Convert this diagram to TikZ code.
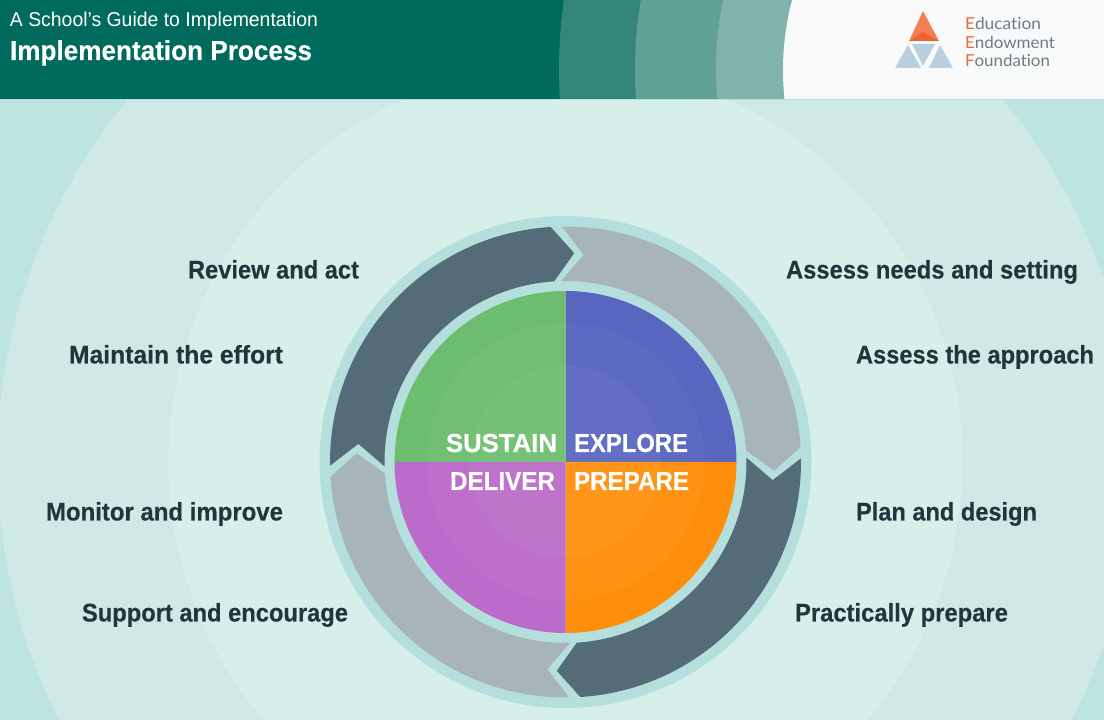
\documentclass[tikz,border=0pt]{standalone}
\usepackage{fontspec}
\usepackage{graphicx}
\setmainfont{Liberation Sans}[BoldFeatures={FakeBold=0.3}]
\newfontfamily\logofont[Ligatures=NoCommon]{Lato}
\definecolor{hdark}{HTML}{006B5C}
\definecolor{bandA}{HTML}{35857B}
\definecolor{bandB}{HTML}{5FA097}
\definecolor{bandC}{HTML}{80B3AA}
\definecolor{hwhite}{HTML}{F8FAFA}
\definecolor{bgA}{HTML}{BDE4E1}
\definecolor{bgB}{HTML}{CFEAE6}
\definecolor{bgC}{HTML}{D7EFEA}
\definecolor{ringc}{HTML}{B5DFDC}
\definecolor{arrowdark}{HTML}{546C77}
\definecolor{arrowgray}{HTML}{A7B4BA}
\definecolor{labelc}{HTML}{20363D}
\definecolor{blueq}{HTML}{5866C0}
\definecolor{greenq}{HTML}{6DBD70}
\definecolor{purpq}{HTML}{BB6BCA}
\definecolor{orangeq}{HTML}{FF8F0A}
\definecolor{eeforange}{HTML}{E9673F}
\definecolor{logoup}{HTML}{F47F55}
\definecolor{logolow}{HTML}{EE6330}
\definecolor{eefgray}{HTML}{707B85}
\definecolor{eefblue}{HTML}{B9CFDD}
\newcommand{\fitw}[2]{\resizebox{#1pt}{\height}{#2}}
\newcommand{\cyclearrow}[2]{%
  \begin{scope}[shift={(wc)},rotate=#1]
    \fill[#2] (0.8:235pt) -- (-5:208pt) -- (1.4:181pt)
      arc[start angle=1.4,end angle=-86.4,radius=181pt]
      -- (-92.4:209pt) -- (-86.4:235.5pt)
      arc[start angle=-86.4,end angle=0.8,radius=235.5pt] -- cycle;
  \end{scope}}
\tikzset{
  x=1pt,y=1pt,
  lab/.style={anchor=base west,inner sep=0pt,outer sep=0pt,text=labelc,font=\fontsize{25.5}{25.5}\selectfont\bfseries},
  phase/.style={anchor=base west,inner sep=0pt,outer sep=0pt,text=white,font=\fontsize{26}{26}\selectfont\bfseries},
  hd/.style={anchor=base west,inner sep=0pt,outer sep=0pt,text=white},
  eef/.style={anchor=base west,inner sep=0pt,outer sep=0pt,text=eefgray,font=\logofont\fontsize{16.5}{16.5}\selectfont}
}
\begin{document}
\begin{tikzpicture}
\useasboundingbox (0,0) rectangle (1104,720);
\coordinate (wc) at (565.5,258);
\begin{scope}
  \clip (0,0) rectangle (1104,720);
  \fill[bgA] (0,0) rectangle (1104,720);
  \fill[bgB] (wc) circle[radius=568pt];
  \fill[bgC] (wc) circle[radius=397pt];
  % header
  \fill[hdark] (0,621) rectangle (1104,720);
  \begin{scope}
    \clip (0,621) rectangle (1104,720);
    \fill[bandA] (1055,650) circle[radius=496pt];
    \fill[bandB] (1055,650) circle[radius=420pt];
    \fill[bandC] (1055,650) circle[radius=339pt];
    \fill[hwhite] (1055,650) circle[radius=272pt];
    \fill[hwhite] (1000,621) rectangle (1104,720);
  \end{scope}
  \fill[ringc] (0,619.5) rectangle (1104,621);
\end{scope}
% logo
\fill[logoup] (923,709) -- (939,679) -- (909,679) -- cycle;
\fill[logolow] (923,688) -- (939,679) -- (909,679) -- cycle;
\fill[eefblue] (895,652) -- (908,675) -- (921,652) -- cycle;
\fill[eefblue] (912,676) -- (935,676) -- (923,654) -- cycle;
\fill[eefblue] (929,652) -- (940,675) -- (953,652) -- cycle;
\node[eef] (eefa) at (965,690.5) {\fitw{76}{\textcolor{eeforange}{E}ducation}};
\node[eef] (eefb) at (965,671.5) {\fitw{90}{\textcolor{eeforange}{E}ndowment}};
\node[eef] (eefc) at (965,653.5) {\fitw{85}{\textcolor{eeforange}{F}oundation}};
% titles
\node[hd,font=\fontsize{20}{20}\selectfont] (sub) at (10,693) {\fitw{308}{A School's Guide to Implementation}};
\node[hd,font=\fontsize{27.5}{27.5}\selectfont\bfseries] (ttl) at (10,660) {\fitw{302}{Implementation Process}};
% wheel
\fill[ringc] (wc) circle[radius=246pt];
\cyclearrow{0}{arrowdark}
\cyclearrow{-90}{arrowgray}
\cyclearrow{-180}{arrowdark}
\cyclearrow{-270}{arrowgray}
\begin{scope}[shift={(wc)}]
  \fill[blueq] (0,0) -- (0,171) arc[start angle=90,end angle=0,radius=171pt] -- cycle;
  \fill[orangeq] (0,0) -- (171,0) arc[start angle=0,end angle=-90,radius=171pt] -- cycle;
  \fill[purpq] (0,0) -- (0,-171) arc[start angle=-90,end angle=-180,radius=171pt] -- cycle;
  \fill[greenq] (0,0) -- (-171,0) arc[start angle=180,end angle=90,radius=171pt] -- cycle;
  \fill[white,opacity=0.03] (0,0) circle[radius=139pt];
  \fill[white,opacity=0.035] (0,0) circle[radius=96pt];
\end{scope}
\node[phase] (sustain) at (446,268) {\fitw{111}{SUSTAIN}};
\node[phase] (explore) at (574,268) {\fitw{114}{EXPLORE}};
\node[phase] (deliver) at (450,230) {\fitw{105}{DELIVER}};
\node[phase] (prepare) at (574,230) {\fitw{115}{PREPARE}};
% labels
\node[lab] (l1) at (188,441.5) {\fitw{171}{Review and act}};
\node[lab] (l2) at (69,356.5) {\fitw{214}{Maintain the effort}};
\node[lab] (l3) at (46,199.5) {\fitw{237}{Monitor and improve}};
\node[lab] (l4) at (82,98.5) {\fitw{266}{Support and encourage}};
\node[lab] (r1) at (786,441.5) {\fitw{292}{Assess needs and setting}};
\node[lab] (r2) at (856,356.5) {\fitw{238}{Assess the approach}};
\node[lab] (r3) at (856,199.5) {\fitw{181}{Plan and design}};
\node[lab] (r4) at (795,98.5) {\fitw{213}{Practically prepare}};
\end{tikzpicture}
\end{document}
